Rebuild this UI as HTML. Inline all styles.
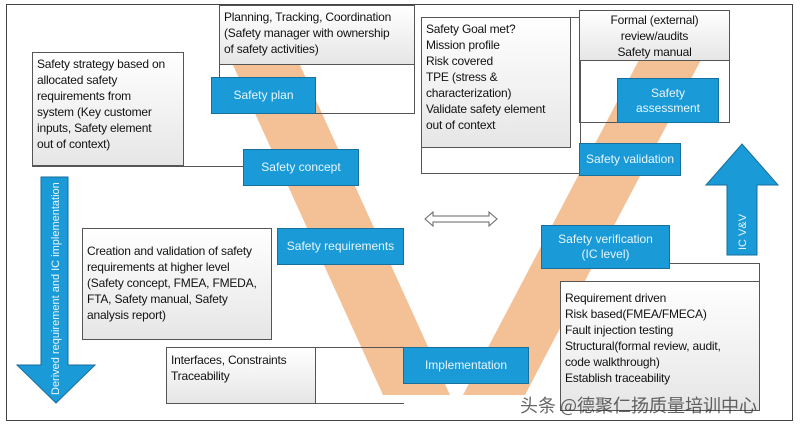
<!DOCTYPE html>
<html><head><meta charset="utf-8"><style>
body{margin:0;width:800px;height:424px;background:#fff;overflow:hidden;position:relative;font-family:"Liberation Sans","Noto Sans CJK SC",sans-serif;}
.g{position:absolute;border:1px solid #555;background:linear-gradient(#fff,#e6e6e6);font-size:12px;line-height:16px;color:#111;padding:3px 4px;box-sizing:border-box;white-space:nowrap;letter-spacing:-0.2px;}
.o{position:absolute;border:1px solid #555;box-sizing:border-box;}
.b{position:absolute;background:#1a9ad6;border:1px solid #176f9c;color:#e8f6ff;font-size:12px;line-height:15px;display:flex;align-items:center;justify-content:center;text-align:center;box-sizing:border-box;}
</style></head><body>
<div class="o" style="left:6px;top:4px;width:787px;height:417px;border-color:#444"></div>
<svg style="position:absolute;left:0;top:0" width="800" height="424">
<polygon points="233,65 300,65 450,395 383,395" fill="#f4c096"/>
<polygon points="640,58 702,58 525,395 463,395" fill="#f4c096"/>
<polygon points="425,219 433,212 433,216 489,216 489,212 497,219 489,226 489,222 433,222 433,226" fill="#fff" stroke="#666"/>
<polygon points="41,177 68,177 68,365 95,365 56,403 17,365 41,365" fill="#1a9ad6" stroke="#176f9c"/>
<polygon points="727,255 757,255 757,185 778,185 742,144 706,185 727,185" fill="#1a9ad6" stroke="#176f9c"/>
<text transform="translate(59,395) rotate(-90)" font-size="11" fill="#e8f6ff" font-family="Liberation Sans, sans-serif">Derived requirement and IC implementation</text>
<text transform="translate(746,250) rotate(-90)" font-size="11" fill="#e8f6ff" font-family="Liberation Sans, sans-serif">IC V&amp;V</text>
</svg>
<div class="o" style="left:219px;top:5px;width:196px;height:109px"></div>
<div class="g" style="left:219px;top:5px;width:196px;height:60px">Planning, Tracking, Coordination<br>(Safety manager with ownership<br>of safety activities)</div>
<div class="b" style="left:211px;top:77px;width:105px;height:37px">Safety plan</div>
<div class="o" style="left:32px;top:52px;width:212px;height:115px;border-top:none;border-right:none"></div>
<div class="g" style="left:32px;top:52px;width:152px;height:114px">Safety strategy based on<br>allocated safety<br>requirements from<br>system (Key customer<br>inputs, Safety element<br>out of context)</div>
<div class="b" style="left:243px;top:149px;width:116px;height:37px">Safety concept</div>
<div class="o" style="left:421px;top:17px;width:160px;height:157px"></div>
<div class="g" style="left:421px;top:17px;width:150px;height:131px">Safety Goal met?<br>Mission profile<br>Risk covered<br>TPE (stress &amp;<br>characterization)<br>Validate safety element<br>out of context</div>
<div class="b" style="left:579px;top:143px;width:102px;height:33px">Safety validation</div>
<div class="o" style="left:579px;top:10px;width:151px;height:113px"></div>
<div class="g" style="left:579px;top:10px;width:151px;height:51px;text-align:center;padding-top:1px">Formal (external)<br>review/audits<br>Safety manual</div>
<div class="b" style="left:617px;top:78px;width:102px;height:45px">Safety<br>assessment</div>
<div class="g" style="left:82px;top:228px;width:190px;height:112px;padding-top:14px">Creation and validation of safety<br>requirements at higher level<br>(Safety concept, FMEA, FMEDA,<br>FTA, Safety manual, Safety<br>analysis report)</div>
<div class="b" style="left:277px;top:228px;width:127px;height:37px">Safety requirements</div>
<div class="o" style="left:166px;top:347px;width:238px;height:57px;border-right:none"></div>
<div class="g" style="left:166px;top:347px;width:150px;height:57px;padding-top:4px">Interfaces, Constraints<br>Traceability</div>
<div class="b" style="left:403px;top:347px;width:126px;height:37px">Implementation</div>
<div class="o" style="left:560px;top:263px;width:200px;height:148px;border-left:none"></div>
<div class="g" style="left:560px;top:281px;width:200px;height:130px;padding-top:8px">Requirement driven<br>Risk based(FMEA/FMECA)<br>Fault injection testing<br>Structural(formal review, audit,<br>code walkthrough)<br>Establish traceability</div>
<div class="b" style="left:541px;top:225px;width:129px;height:44px">Safety verification<br>(IC level)</div>
<div style="position:absolute;left:520px;top:392px;font-size:18px;color:#333;opacity:.75;font-family:'Noto Sans CJK SC',sans-serif">头条 @德聚仁扬质量培训中心</div>
</body></html>
